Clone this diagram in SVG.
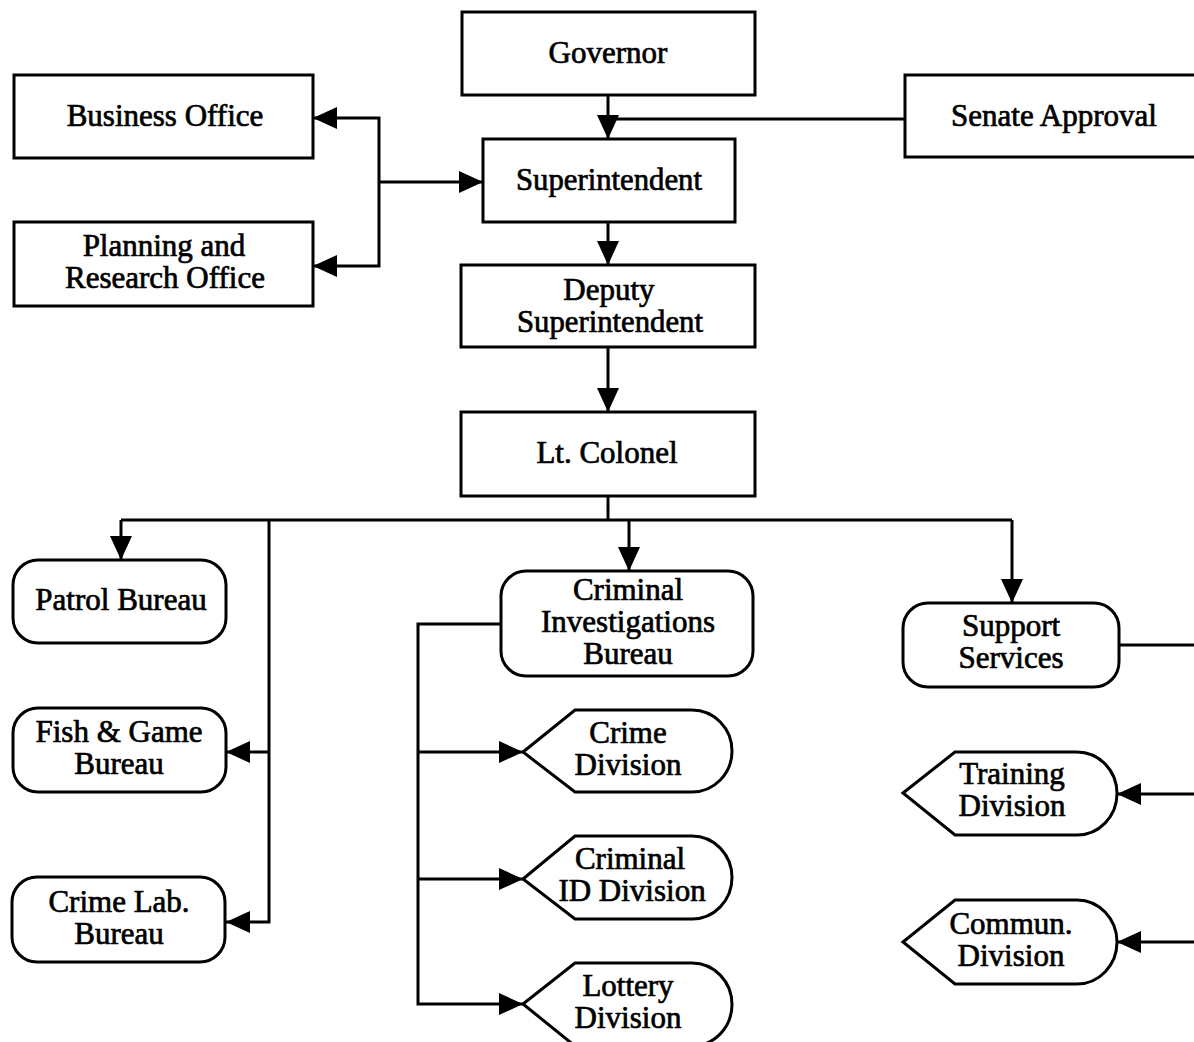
<svg xmlns="http://www.w3.org/2000/svg" width="1194" height="1042" viewBox="0 0 1194 1042">
<defs>
<marker id="arr" markerUnits="userSpaceOnUse" markerWidth="24" markerHeight="22" refX="24" refY="11" orient="auto">
<path d="M0,0 L24,11 L0,22 Z" fill="#000"/>
</marker>
<style>
.box{fill:#fff;stroke:#000;stroke-width:3}
.con{fill:none;stroke:#000;stroke-width:3}
.arw{marker-end:url(#arr)}
text{font-family:"Liberation Serif","Times New Roman",serif;font-size:31px;fill:#000;stroke:#000;stroke-width:0.7;text-anchor:middle}
</style>
</defs>
<rect width="1194" height="1042" fill="#fff"/>
<g id="connectors">
<path class="con arw" d="M608 95 V139"/>
<path class="con" d="M905 119 H608"/>
<path class="con arw" d="M608 222 V265"/>
<path class="con arw" d="M608 348 V412"/>
<path class="con arw" d="M379 182 H483"/>
<path class="con arw" d="M379 182 V118 H313"/>
<path class="con arw" d="M379 182 V266 H313"/>
<path class="con" d="M608 496 V520"/>
<path class="con" d="M121 520 H1012"/>
<path class="con arw" d="M121 520 V560"/>
<path class="con arw" d="M629 520 V571"/>
<path class="con arw" d="M1012 520 V603"/>
<path class="con arw" d="M269 520 V922 H226"/>
<path class="con arw" d="M269 752 H226"/>
<path class="con arw" d="M501 624 H418 V1004 H523"/>
<path class="con arw" d="M418 752 H523"/>
<path class="con arw" d="M418 879 H523"/>
<path class="con" d="M1119 645 H1200"/>
<path class="con arw" d="M1200 794 H1117"/>
<path class="con arw" d="M1200 942 H1117"/>
</g>
<g id="governor"><rect class="box" x="462" y="12" width="293" height="83"/><text x="608" y="63">Governor</text></g>
<g id="business-office"><rect class="box" x="14" y="75" width="299" height="83"/><text x="165" y="126">Business Office</text></g>
<g id="senate-approval"><rect class="box" x="905" y="75" width="300" height="82"/><text x="1054" y="126">Senate Approval</text></g>
<g id="superintendent"><rect class="box" x="483" y="139" width="252" height="83"/><text x="609" y="190" textLength="186" lengthAdjust="spacingAndGlyphs">Superintendent</text></g>
<g id="planning"><rect class="box" x="14" y="222" width="299" height="84"/><text x="164" y="256">Planning and</text><text x="165" y="288">Research Office</text></g>
<g id="deputy"><rect class="box" x="461" y="265" width="294" height="82"/><text x="609" y="300">Deputy</text><text x="610" y="332" textLength="186" lengthAdjust="spacingAndGlyphs">Superintendent</text></g>
<g id="lt-colonel"><rect class="box" x="461" y="412" width="294" height="84"/><text x="607" y="463">Lt. Colonel</text></g>
<g id="patrol"><rect class="box" x="13" y="560" width="213" height="83" rx="25"/><text x="121" y="610">Patrol Bureau</text></g>
<g id="fish-game"><rect class="box" x="13" y="708" width="213" height="84" rx="25"/><text x="119" y="742">Fish &amp; Game</text><text x="119" y="774">Bureau</text></g>
<g id="crime-lab"><rect class="box" x="12" y="877" width="213" height="85" rx="25"/><text x="119" y="912">Crime Lab.</text><text x="119" y="944">Bureau</text></g>
<g id="cib"><rect class="box" x="501" y="571" width="252" height="105" rx="25"/><text x="628" y="600">Criminal</text><text x="628" y="632">Investigations</text><text x="628" y="664">Bureau</text></g>
<g id="crime-division"><path class="box" d="M523 752 L575 710 H692 A40 41 0 0 1 692 792 H575 Z"/><text x="628" y="743">Crime</text><text x="628" y="775">Division</text></g>
<g id="criminal-id"><path class="box" d="M523 879 L575 836 H692 A40 41.5 0 0 1 692 919 H575 Z"/><text x="630" y="869">Criminal</text><text x="632" y="901">ID Division</text></g>
<g id="lottery"><path class="box" d="M523 1004 L575 963 H692 A40 41.5 0 0 1 692 1046 H575 Z"/><text x="628" y="996">Lottery</text><text x="628" y="1028">Division</text></g>
<g id="support"><rect class="box" x="903" y="603" width="216" height="84" rx="25"/><text x="1011" y="636">Support</text><text x="1011" y="668">Services</text></g>
<g id="training"><path class="box" d="M903 793 L955 752 H1077 A40 41.5 0 0 1 1077 835 H955 Z"/><text x="1012" y="784">Training</text><text x="1012" y="816">Division</text></g>
<g id="commun"><path class="box" d="M903 942 L955 900 H1077 A40 42 0 0 1 1077 984 H955 Z"/><text x="1011" y="934">Commun.</text><text x="1011" y="966">Division</text></g>
</svg>
